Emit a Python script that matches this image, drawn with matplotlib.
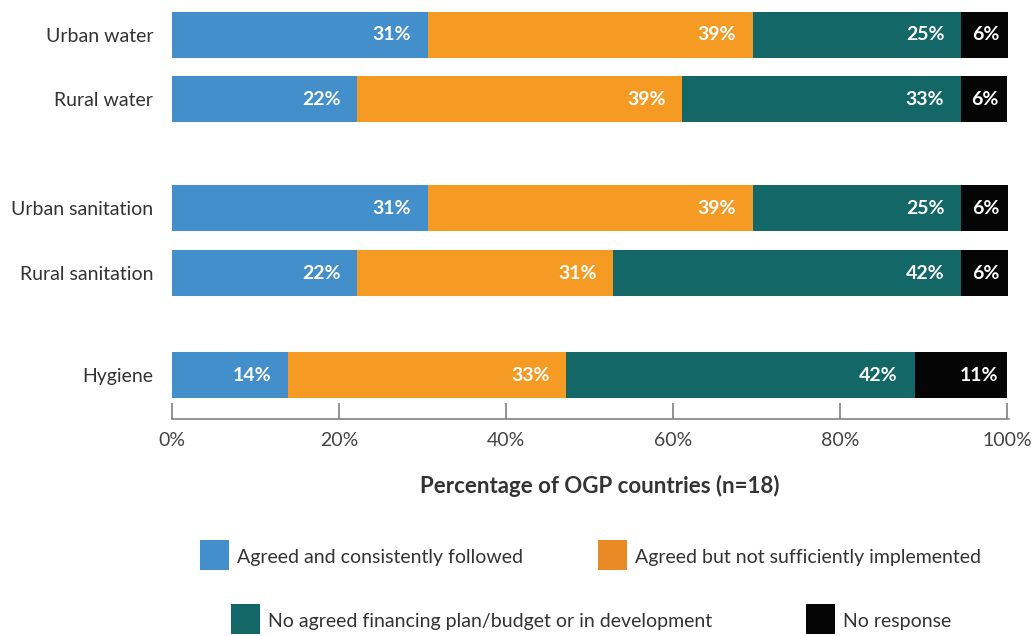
import matplotlib.pyplot as plt
from matplotlib.patches import Rectangle
import numpy as np

# data (share of the 18 OGP countries, %)
categories = ['Urban water', 'Rural water', 'Urban sanitation', 'Rural sanitation', 'Hygiene']
followed = [30.6, 22.2, 30.6, 22.2, 13.9]
not_implemented = [38.9, 38.9, 38.9, 30.6, 33.3]
no_plan = [25.0, 33.3, 25.0, 41.7, 41.7]
no_response = [5.6, 5.6, 5.6, 5.6, 11.1]
series_names = ['Agreed and consistently followed', 'Agreed but not sufficiently implemented',
                'No agreed financing plan/budget or in development', 'No response']
xticks = [0, 20, 40, 60, 80, 100]

colors = ['#428fcc', '#f59a23', '#136767', '#050505']
legend_colors = ['#428fcc', '#e98a25', '#136767', '#050505']
ypos = [0, 1, 2.68, 3.68, 5.25]  # gaps between groups

plt.rcParams['font.family'] = ['Lato', 'DejaVu Sans']

fig = plt.figure(figsize=(10.34, 6.36), dpi=100)
W, H = 1034, 636
ax = fig.add_axes([172 / W, 1 - 419 / H, (1009 - 172) / W, (419 - 11.5) / H])

series = [followed, not_implemented, no_plan, no_response]
left = np.zeros(len(categories))
for k, vals in enumerate(series):
    vals = np.array(vals)
    ax.barh(ypos, vals, left=left, height=0.71, color=colors[k], linewidth=0)
    pad = -6.5 if k == 3 else -12
    for y, l, v in zip(ypos, left, vals):
        ax.annotate(f'{round(v)}%', xy=(l + v, y), xytext=(pad, 0), textcoords='offset points',
                    ha='right', va='center', color='white', fontsize=14, fontweight='bold')
    left += vals

ax.set_xlim(0, 100.2)
ax.set_ylim(5.927, -0.355)
ax.set_yticks(ypos)
ax.set_yticklabels(categories, fontsize=14, color='#333333')
ax.tick_params(axis='y', length=0, pad=13.5)
ax.set_xticks(xticks)
ax.set_xticklabels([f'{t}%' for t in xticks], fontsize=14, color='#444444')
ax.tick_params(axis='x', direction='in', length=11.5, width=1.1, color='#777777', pad=9)
for s in ['top', 'right', 'left']:
    ax.spines[s].set_visible(False)
ax.spines['bottom'].set_color('#777777')
ax.spines['bottom'].set_linewidth(1.1)
ax.set_xlabel('Percentage of OGP countries (n=18)', fontsize=16, fontweight='bold', color='#333333')
ax.xaxis.set_label_coords((600 - 172) / 837, -(475 - 419) / 407.5)

# legend, two rows drawn by hand
legend_spots = [(200, 555), (598, 555), (231, 619), (806, 619)]
for (px, py), c, name in zip(legend_spots, legend_colors, series_names):
    fig.add_artist(Rectangle((px / W, 1 - (py + 15) / H), 29 / W, 30 / H,
                             transform=fig.transFigure, color=c, linewidth=0))
    fig.text((px + 37) / W, 1 - (py + 3) / H, name, fontsize=14, color='#333333',
             ha='left', va='center')

fig.savefig('out.png', dpi=100)
